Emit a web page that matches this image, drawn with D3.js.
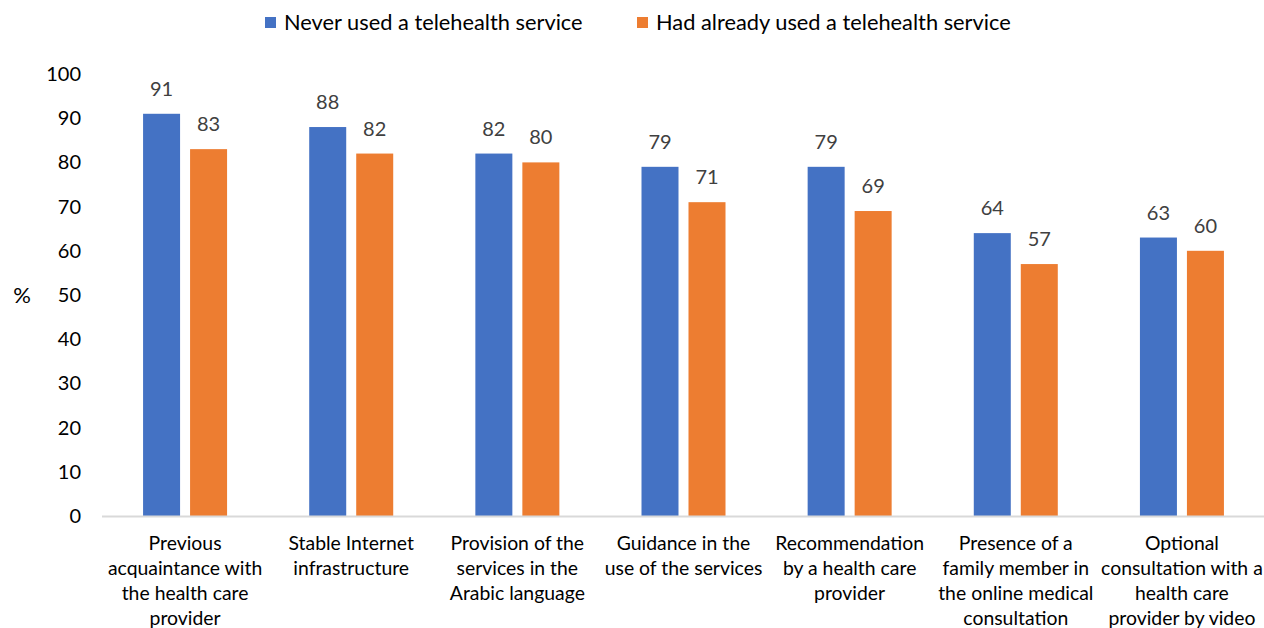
<!DOCTYPE html>
<html>
<head>
<meta charset="utf-8">
<script src="https://cdn.jsdelivr.net/npm/d3@7"></script>
<style>
  html, body { margin: 0; padding: 0; background: #fff; }
  svg { display: block; font-family: Lato, "Liberation Sans", sans-serif; }
</style>
</head>
<body>
<svg id="chart" width="1264" height="628"></svg>
<script>
// Factors, one category per group of bars (each line of a label is its own entry)
const categories = [
  ["Previous", "acquaintance with", "the health care", "provider"],
  ["Stable Internet", "infrastructure"],
  ["Provision of the", "services in the", "Arabic language"],
  ["Guidance in the", "use of the services"],
  ["Recommendation", "by a health care", "provider"],
  ["Presence of a", "family member in", "the online medical", "consultation"],
  ["Optional", "consultation with a", "health care", "provider by video"]
];
const seriesNames = ["Never used a telehealth service", "Had already used a telehealth service"];
const neverUsed = [91, 88, 82, 79, 79, 64, 63];
const alreadyUsed = [83, 82, 80, 71, 69, 57, 60];
const yTicks = [0, 10, 20, 30, 40, 50, 60, 70, 80, 90, 100];
const colors = ["#4472C4", "#ED7D31"];

const svg = d3.select("#chart");
const margin = { left: 102, right: -1, top: 74, bottom: 112 };
const W = 1264, H = 628;

const x0 = d3.scaleBand()
  .domain(d3.range(categories.length))
  .range([margin.left, W - margin.right])
  .paddingInner(0)
  .paddingOuter(0);

const y = d3.scaleLinear().domain([0, 100]).range([H - margin.bottom, margin.top]);

const barW = 37, gap = 10;
const x1 = d3.scaleOrdinal().domain([0, 1]).range([
  x0.bandwidth() / 2 - gap / 2 - barW,
  x0.bandwidth() / 2 + gap / 2
]);

// Y axis: labels only
const yAxis = d3.axisLeft(y).tickValues(yTicks).tickSize(0).tickPadding(0);
const gy = svg.append("g").attr("transform", `translate(81,0)`).call(yAxis);
gy.select(".domain").remove();
gy.selectAll("text").attr("font-size", 20).attr("fill", "#000").attr("font-family", "Lato, sans-serif");

svg.append("text").attr("x", 22).attr("y", 297).attr("text-anchor", "middle")
  .attr("dominant-baseline", "middle").attr("font-size", 22).text("%");

// Bars
const series = [neverUsed, alreadyUsed];
series.forEach((vals, s) => {
  const g = svg.append("g");
  g.selectAll("rect").data(vals).join("rect")
    .attr("x", (d, i) => x0(i) + x1(s))
    .attr("y", d => y(d))
    .attr("width", barW)
    .attr("height", d => y(0) - y(d))
    .attr("fill", colors[s]);
  g.selectAll("text").data(vals).join("text")
    .attr("x", (d, i) => x0(i) + x1(s) + barW / 2)
    .attr("y", d => y(d) - 18)
    .attr("text-anchor", "middle")
    .attr("font-size", 20)
    .attr("fill", "#404040")
    .text(d => d);
});

// X axis line
svg.append("line")
  .attr("x1", margin.left).attr("x2", W)
  .attr("y1", y(0) + 0.5).attr("y2", y(0) + 0.5)
  .attr("stroke", "#d9d9d9").attr("stroke-width", 2);

// Category labels
const cl = svg.append("g");
categories.forEach((lines, i) => {
  const t = cl.append("text")
    .attr("x", x0(i) + x0.bandwidth() / 2)
    .attr("y", 550)
    .attr("text-anchor", "middle")
    .attr("font-size", 19.4)
    .attr("fill", "#000");
  lines.forEach((ln, j) => {
    t.append("tspan").attr("x", x0(i) + x0.bandwidth() / 2).attr("y", 550 + j * 25).text(ln);
  });
});

// Legend
const legX = [265, 637];
seriesNames.forEach((name, s) => {
  svg.append("rect").attr("x", legX[s]).attr("y", 17).attr("width", 11).attr("height", 11).attr("fill", colors[s]);
  svg.append("text").attr("x", legX[s] + 19).attr("y", 29.5)
    .attr("font-size", 21.8).attr("fill", "#000").text(name);
});
</script>
</body>
</html>
